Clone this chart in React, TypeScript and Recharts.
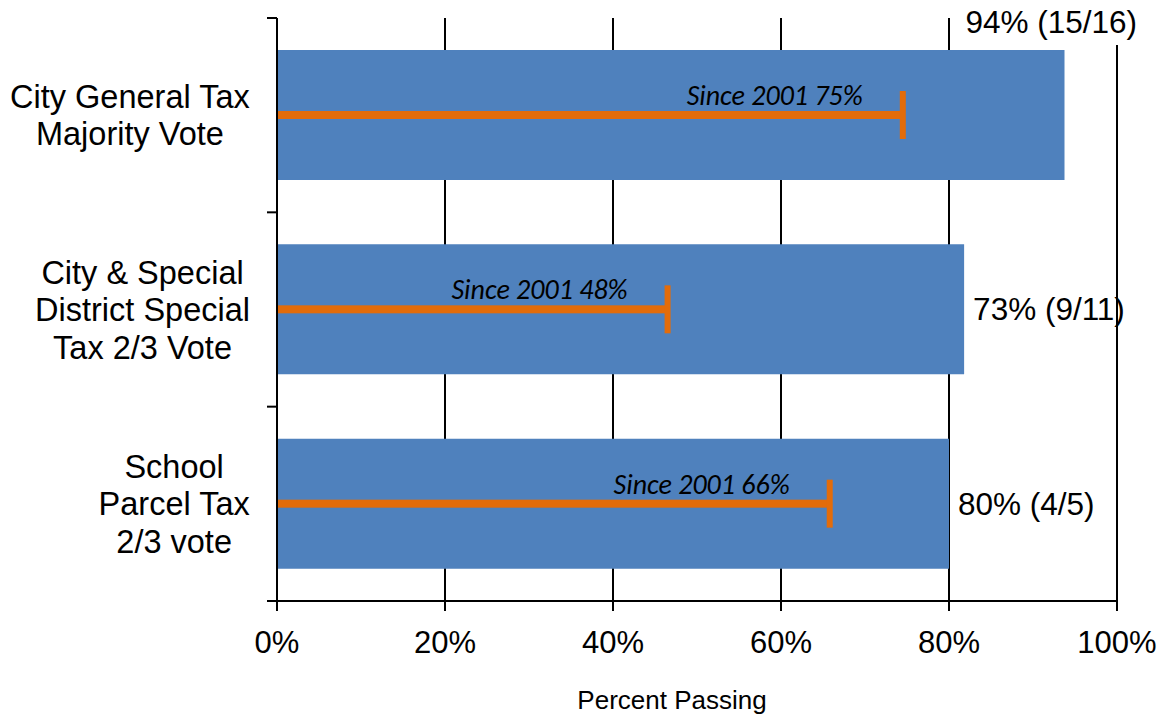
import React from 'react'
import { BarChart, Bar, XAxis, YAxis, CartesianGrid, LabelList } from 'recharts'

const categories = [
  'City General Tax\nMajority Vote',
  'City & Special\nDistrict Special\nTax 2/3 Vote',
  'School\nParcel Tax\n2/3 vote',
]
const passRate = [93.75, 81.8, 80]
const passLabels = ['94% (15/16)', '73% (9/11)', '80% (4/5)']
const since2001 = [74.5, 46.5, 65.8]
const since2001Labels = ['Since 2001 75%', 'Since 2001 48%', 'Since 2001 66%']
const xTicks = [0, 20, 40, 60, 80, 100]

const data = categories.map((name, i) => ({
  name,
  pass: passRate[i],
  passLabel: passLabels[i],
  since: since2001[i],
  sinceLabel: since2001Labels[i],
}))

const BLUE = '#4F81BD'
const ORANGE = '#E36C0A'
const FONT = '"Liberation Sans", Arial, sans-serif'

const W = 1163
const H = 715
const TOP = 18
const RIGHT = 46
const Y_AXIS_W = 277
const X_AXIS_H = 114
const band = (H - TOP - X_AXIS_H) / categories.length
const plotRight = W - RIGHT

let ctx: CanvasRenderingContext2D | null = null
function measure(text: string, font: string) {
  if (!ctx) ctx = document.createElement('canvas').getContext('2d')
  if (!ctx) return text.length * 15
  ctx.font = font
  return ctx.measureText(text).width
}

// category labels: centered lines, block right aligned to the axis
function CategoryTick(props: any) {
  const { x, y, payload, index } = props
  const lines = String(payload.value).split('\n')
  const fs = 32.5
  const w = Math.max(...lines.map(l => measure(l, `${fs}px "Liberation Sans"`)))
  const cx = x - w / 2
  const axisX = x + 27
  const lh = 37.5
  return (
    <g>
      <line x1={axisX - 10} x2={axisX} y1={y - band / 2} y2={y - band / 2} stroke="#000" strokeWidth={2} />
      {index === categories.length - 1 && (
        <line x1={axisX - 10} x2={axisX} y1={y + band / 2} y2={y + band / 2} stroke="#000" strokeWidth={2} />
      )}
      <text textAnchor="middle" fontSize={fs} fontFamily={FONT} fill="#000">
        {lines.map((l, i) => (
          <tspan key={i} x={cx} y={y + (i - (lines.length - 1) / 2) * lh + 11.5}>{l}</tspan>
        ))}
      </text>
    </g>
  )
}

function PassLabel(props: any) {
  const { x, y, width, height, value } = props
  const end = x + width
  const fs = 31.5
  if (plotRight - end < 80) {
    // no room on the right: put it above the bar, past the 100% line
    const tw = measure(String(value), `${fs}px "Liberation Sans"`)
    const tx = plotRight + 20
    return (
      <g>
        <rect x={tx - tw - 4} y={y - 48} width={tw + 8} height={43} fill="#fff" />
        <text x={tx} y={y - 17} textAnchor="end" fontSize={fs} fontFamily={FONT} fill="#000">{value}</text>
      </g>
    )
  }
  return (
    <text x={end + 9} y={y + height / 2 + 11} fontSize={fs} fontFamily={FONT} fill="#000">{value}</text>
  )
}

function SinceShape(props: any) {
  const { x, y, width, height } = props
  const cy = y + height / 2
  return (
    <g>
      <rect x={x} y={cy - 4} width={width} height={8} fill={ORANGE} />
      <rect x={x + width - 3} y={cy - 24} width={6} height={48} fill={ORANGE} />
    </g>
  )
}

function SinceLabel(props: any) {
  const { x, y, width, height, value } = props
  const cy = y + height / 2
  return (
    <text x={x + width - 40} y={cy - 10} textAnchor="end" fontSize={28} fontStyle="italic"
      fontFamily='Carlito, Lato, sans-serif' fill="#000">{value}</text>
  )
}

export default function App() {
  return (
    <div style={{ width: W, height: H }}>
      <style>{'body{margin:0}'}</style>
      <BarChart width={W} height={H} data={data} layout="vertical"
        margin={{ top: TOP, right: RIGHT, bottom: 0, left: 0 }}>
        <CartesianGrid horizontal={false} stroke="#000" strokeWidth={2} yAxisId="main" />
        <XAxis type="number" domain={[0, 100]} ticks={xTicks} tickFormatter={v => `${v}%`}
          height={X_AXIS_H} tickSize={10} tickMargin={20}
          axisLine={{ stroke: '#000', strokeWidth: 2 }} tickLine={{ stroke: '#000', strokeWidth: 2 }}
          tick={{ fontSize: 31, fill: '#000', fontFamily: FONT }}
          label={{ value: 'Percent Passing', position: 'insideBottom', offset: 6, dx: -25, fontSize: 26, fill: '#000', fontFamily: FONT }} />
        <YAxis yAxisId="main" type="category" dataKey="name" width={Y_AXIS_W}
          axisLine={{ stroke: '#000', strokeWidth: 2 }} tickLine={false}
          tickSize={10} tickMargin={17} tick={<CategoryTick />} interval={0} />
        <YAxis yAxisId="line" type="category" dataKey="name" hide width={0} />
        <Bar yAxisId="main" dataKey="pass" fill={BLUE} barSize={130} isAnimationActive={false}>
          <LabelList dataKey="passLabel" content={<PassLabel />} />
        </Bar>
        <Bar yAxisId="line" dataKey="since" barSize={130} shape={<SinceShape />} isAnimationActive={false}>
          <LabelList dataKey="sinceLabel" content={<SinceLabel />} />
        </Bar>
      </BarChart>
    </div>
  )
}
